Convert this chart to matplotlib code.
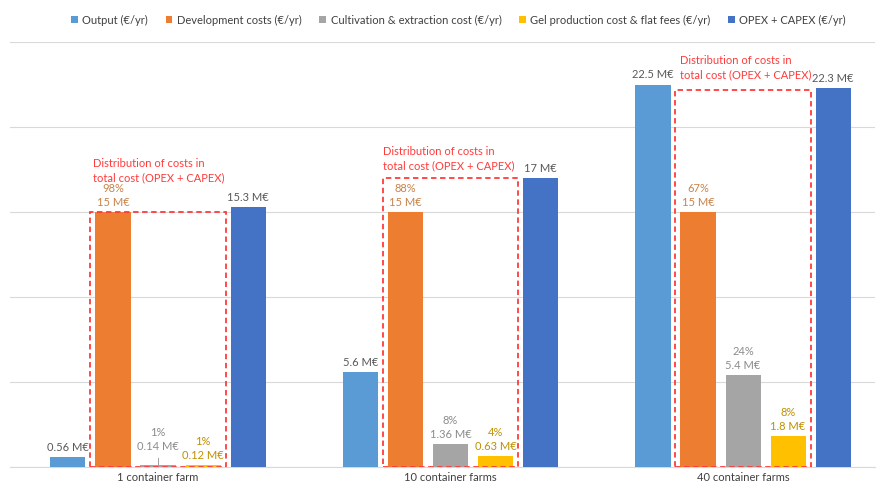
import numpy as np
import matplotlib.pyplot as plt
from matplotlib.patches import Rectangle

plt.rcParams['font.family'] = ['Lato', 'DejaVu Sans']

# data (values in M€)
groups = ['1 container farm', '10 container farms', '40 container farms']
series = ['Output (€/yr)', 'Development costs (€/yr)', 'Cultivation & extraction cost (€/yr)',
          'Gel production cost & flat fees (€/yr)', 'OPEX + CAPEX (€/yr)']
output = [0.56, 5.6, 22.5]
dev_costs = [15, 15, 15]
cultivation = [0.14, 1.36, 5.4]
gel = [0.12, 0.63, 1.8]
total = [15.3, 17, 22.3]

output_lbl = ['0.56 M€', '5.6 M€', '22.5 M€']
dev_lbl = ['98%\n15 M€', '88%\n15 M€', '67%\n15 M€']
cult_lbl = ['1%\n0.14 M€', '8%\n1.36 M€', '24%\n5.4 M€']
gel_lbl = ['1%\n0.12 M€', '4%\n0.63 M€', '8%\n1.8 M€']
total_lbl = ['15.3 M€', '17 M€', '22.3 M€']

# height of the red dashed "distribution" boxes
box_tops = [15, 17, 22.2]

colors = ['#5b9bd5', '#ed7d31', '#a5a5a5', '#ffc000', '#4472c4']
lbl_colors = ['#595959', '#c8844a', '#8c8c8c', '#bf9000', '#595959']

fig = plt.figure(figsize=(8.82, 4.91), dpi=100)
ax = fig.add_axes([10 / 882, 1 - 467 / 491, 865 / 882, 425 / 491])

x = np.arange(len(groups))
pitch = 0.154
width = 0.12
values = [output, dev_costs, cultivation, gel, total]
labels = [output_lbl, dev_lbl, cult_lbl, gel_lbl, total_lbl]

for i, (vals, lbls) in enumerate(zip(values, labels)):
    pos = x + (i - 2) * pitch
    bars = ax.bar(pos, vals, width, color=colors[i], label=series[i], zorder=3)
    for j, (b, t) in enumerate(zip(bars, lbls)):
        off = 3
        if i == 2 and j == 0:
            off = 9
            ax.plot([pos[j], pos[j]], [vals[j] + 0.05, vals[j] + 0.4], color='#8c8c8c', lw=0.6, zorder=4)
        ax.annotate(t, (pos[j], vals[j]), xytext=(0, off), textcoords='offset points',
                    ha='center', va='bottom', fontsize=8, color=lbl_colors[i], linespacing=1.35)

# red dashed boxes + notes
for j in range(len(groups)):
    left = x[j] - 1.5 * pitch
    ax.add_patch(Rectangle((left, 0), 3 * pitch, box_tops[j], fill=False, ec='#ff3b3b',
                           ls=(0, (3, 2)), lw=1.3, zorder=5))
ax.text(x[0] - 1.45 * pitch, 16.7, 'Distribution of costs in\ntotal cost (OPEX + CAPEX)',
        fontsize=8, color='#ff3b3b', ha='left', va='bottom', linespacing=1.35)
ax.text(x[1] - 1.5 * pitch, 17.4, 'Distribution of costs in\ntotal cost (OPEX + CAPEX)',
        fontsize=8, color='#ff3b3b', ha='left', va='bottom', linespacing=1.35)
ax.text(x[2] - 1.4 * pitch, 22.75, 'Distribution of costs in\ntotal cost (OPEX + CAPEX)',
        fontsize=8, color='#ff3b3b', ha='left', va='bottom', linespacing=1.35)

ax.set_ylim(0, 25)
ax.set_xlim(-0.506, 2.451)
ax.set_yticks(np.arange(0, 26, 5))
ax.set_yticklabels([])
ax.tick_params(axis='both', length=0)
ax.set_xticks(x)
ax.set_xticklabels(groups, fontsize=8, color='#404040')
ax.grid(axis='y', color='#d9d9d9', lw=0.8, zorder=0)
for s in ['top', 'right', 'left']:
    ax.spines[s].set_visible(False)
ax.spines['bottom'].set_color('#d9d9d9')

fig.legend(loc='center', bbox_to_anchor=(0.52, 1 - 20 / 491), ncol=5, frameon=False,
           fontsize=8, handlelength=0.6, handleheight=0.6, columnspacing=1.6,
           handletextpad=0.4, labelcolor='#404040')

fig.savefig('out.png', dpi=100)
